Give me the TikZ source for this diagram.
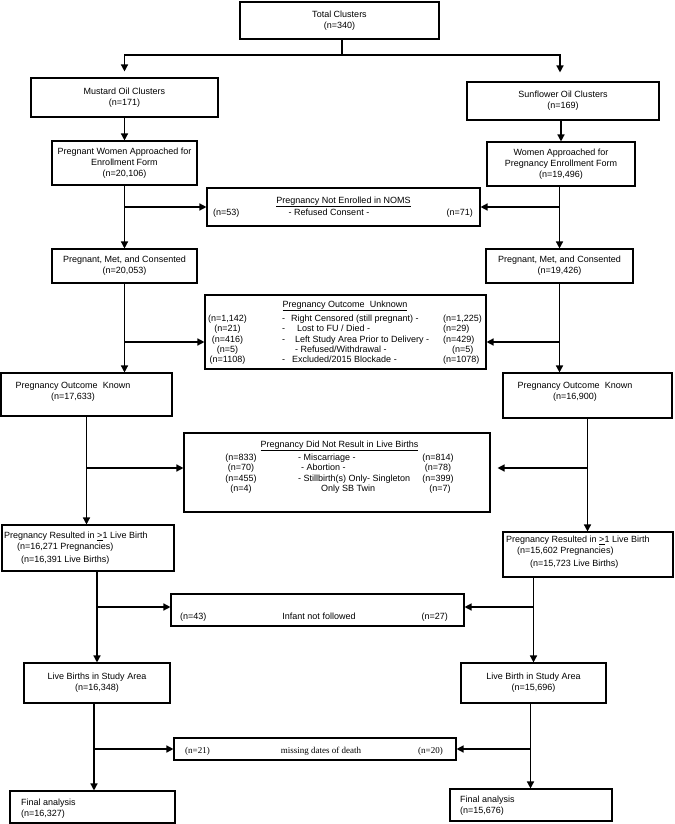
\documentclass[tikz,border=0pt]{standalone}
\usepackage{fontspec}
\setmainfont{Liberation Sans}
\newfontfamily\serifface{Liberation Serif}
\usetikzlibrary{arrows.meta,calc}
\newcommand\fsz{\fontsize{9bp}{10.7bp}\selectfont}
\tikzset{
  box/.style={draw, line width=1.1bp, inner sep=0pt, align=center, font=\fsz},
  lbl/.style={inner sep=0pt, font=\fsz},
  arr/.style={line width=1.4bp, -{Triangle[length=7bp,width=7bp]}},
  ln/.style={line width=1.4bp}
}
\begin{document}
\begin{tikzpicture}[x=1bp,y=-1bp]
\fill[white] (0,0) rectangle (675,824);
\useasboundingbox (0,0) rectangle (675,824);
% boxes
\node[box, minimum width=199bp, minimum height=37bp] (total) at (339.5,20.5) {Total Clusters\\(n=340)};
\node[box, minimum width=187bp, minimum height=39bp] (mustard) at (124.5,97.5) {Mustard Oil Clusters\\(n=171)};
\node[box, minimum width=192bp, minimum height=38bp] (sunflower) at (563,101) {Sunflower Oil Clusters\\(n=169)};
\node[box, minimum width=145bp, minimum height=44bp] (pwa) at (124.5,163) {Pregnant Women Approached for\\Enrollment Form\\(n=20,106)};
\node[box, minimum width=148bp, minimum height=44bp] (wa) at (561,164) {Women Approached for\\Pregnancy Enrollment Form\\(n=19,496)};
\node[box, minimum width=273bp, minimum height=38bp] (notenr) at (343.5,207) {};
\node[box, minimum width=145bp, minimum height=34bp] (pmcL) at (124.5,266) {Pregnant, Met, and Consented\\(n=20,053)};
\node[box, minimum width=147bp, minimum height=34bp] (pmcR) at (559.5,266) {Pregnant, Met, and Consented\\(n=19,426)};
\node[box, minimum width=281bp, minimum height=74bp] (unknown) at (345.5,332) {};
\node[box, minimum width=171bp, minimum height=43bp] (pokL) at (86.5,394.5) {};
\node[box, minimum width=169bp, minimum height=45bp] (pokR) at (587.5,395.5) {};
\node[box, minimum width=306bp, minimum height=79bp] (notlive) at (337,472.5) {};
\node[box, minimum width=172bp, minimum height=46bp] (prL) at (88,548) {};
\node[box, minimum width=170bp, minimum height=45bp] (prR) at (588,554.5) {};
\node[box, minimum width=293bp, minimum height=32bp] (infant) at (317.5,610) {};
\node[box, minimum width=146bp, minimum height=40bp] (lbL) at (97,683) {Live Births in Study Area\\(n=16,348)};
\node[box, minimum width=145bp, minimum height=40bp] (lbR) at (533.5,683) {Live Birth in Study Area\\(n=15,696)};
\node[box, minimum width=282bp, minimum height=22bp] (missing) at (315,749) {};
\node[box, minimum width=165bp, minimum height=32bp] (finL) at (92.5,807) {};
\node[box, minimum width=162bp, minimum height=32bp] (finR) at (531,805) {};
% labels: not enrolled
\node[lbl] (neT) at (343.5,202) {\underline{Pregnancy Not Enrolled in NOMS}};
\node[lbl, anchor=mid west] (neL) at (213,213) {(n=53)};
\node[lbl] (neM) at (329,212) {- Refused Consent -};
\node[lbl, anchor=mid east] (neR) at (473,213) {(n=71)};
% labels: outcome unknown
\node[lbl] (ouT) at (345,306) {\underline{Pregnancy Outcome\ \ Unknown}};
\node[lbl, anchor=mid] (ouL1) at (227.5,319) {(n=1,142)};
\node[lbl, anchor=mid] (ouL2) at (227.5,329.3) {(n=21)};
\node[lbl, anchor=mid] (ouL3) at (227.5,339.6) {(n=416)};
\node[lbl, anchor=mid] (ouL4) at (227.5,349.9) {(n=5)};
\node[lbl, anchor=mid] (ouL5) at (227.5,360.2) {(n=1108)};
\node[lbl, anchor=mid west] (ouM1) at (282,319) {-\hspace{6bp}Right Censored (still pregnant) -};
\node[lbl, anchor=mid west] (ouM2) at (282,329.3) {-\hspace{12bp}Lost to FU / Died -};
\node[lbl, anchor=mid west] (ouM3) at (282,339.6) {-\hspace{10bp}Left Study Area Prior to Delivery -};
\node[lbl, anchor=mid west] (ouM4) at (295,349.9) {- Refused/Withdrawal -};
\node[lbl, anchor=mid west] (ouM5) at (282,360.2) {-\hspace{7bp}Excluded/2015 Blockade -};
\node[lbl, anchor=mid west] (ouR1) at (443,319) {(n=1,225)};
\node[lbl, anchor=mid west] (ouR2) at (443,329.3) {(n=29)};
\node[lbl, anchor=mid west] (ouR3) at (443,339.6) {(n=429)};
\node[lbl, anchor=mid west] (ouR4) at (452,349.9) {(n=5)};
\node[lbl, anchor=mid west] (ouR5) at (443,360.2) {(n=1078)};
% labels: outcome known
\node[lbl, align=center] (pokLt) at (73,391.5) {Pregnancy Outcome\ \ Known\\(n=17,633)};
\node[lbl, align=center] (pokRt) at (575,391.5) {Pregnancy Outcome\ \ Known\\(n=16,900)};
% labels: did not result
\node[lbl] (nlT) at (339.5,446) {\underline{Pregnancy Did Not Result in Live Births}};
\node[lbl, anchor=mid] (nlL1) at (241,458) {(n=833)};
\node[lbl, anchor=mid] (nlL2) at (241,468.2) {(n=70)};
\node[lbl, anchor=mid] (nlL3) at (241,478.4) {(n=455)};
\node[lbl, anchor=mid] (nlL4) at (241,488.6) {(n=4)};
\node[lbl, anchor=mid west] (nlM1) at (298,458) {- Miscarriage -};
\node[lbl, anchor=mid west] (nlM2) at (301,468.2) {- Abortion -};
\node[lbl, anchor=mid west] (nlM3) at (298,478.4) {- Stillbirth(s) Only- Singleton};
\node[lbl, anchor=mid west] (nlM4) at (321,488.6) {Only SB Twin};
\node[lbl, anchor=mid] (nlR1) at (438,458) {(n=814)};
\node[lbl, anchor=mid] (nlR2) at (438,468.2) {(n=78)};
\node[lbl, anchor=mid] (nlR3) at (438,478.4) {(n=399)};
\node[lbl, anchor=mid] (nlR4) at (440,488.6) {(n=7)};
% labels: pregnancy resulted
\node[lbl, anchor=mid west] (prL1) at (4,536) {Pregnancy Resulted in \underline{>}1 Live Birth};
\node[lbl, anchor=mid west] (prL2) at (17,547) {(n=16,271 Pregnancies)};
\node[lbl, anchor=mid west] (prL3) at (21,560) {(n=16,391 Live Births)};
\node[lbl, anchor=mid west] (prR1) at (506,540) {Pregnancy Resulted in \underline{>}1 Live Birth};
\node[lbl, anchor=mid west] (prR2) at (517,551) {(n=15,602 Pregnancies)};
\node[lbl, anchor=mid west] (prR3) at (530,564) {(n=15,723 Live Births)};
% labels: infant
\node[lbl, anchor=mid west] (ifL) at (180,617) {(n=43)};
\node[lbl, anchor=mid] (ifM) at (319,617) {Infant not followed};
\node[lbl, anchor=mid east] (ifR) at (448,617) {(n=27)};
% labels: missing
\node[lbl, anchor=mid west, font=\serifface\fontsize{9bp}{11bp}\selectfont] (msL) at (185,750.5) {(n=21)};
\node[lbl, anchor=mid, font=\serifface\fontsize{9bp}{11bp}\selectfont] (msM) at (321,750.5) {missing dates of death};
\node[lbl, anchor=mid east, font=\serifface\fontsize{9bp}{11bp}\selectfont] (msR) at (443,750.5) {(n=20)};
% labels: final
\node[lbl, align=left, anchor=west] (finLt) at (21,808.5) {Final analysis\\(n=16,327)};
\node[lbl, align=left, anchor=west] (finRt) at (460,806) {Final analysis\\(n=15,676)};
% connectors
\coordinate (split) at (342,55);
\draw[ln] (total.south -| split) -- (split);
\draw[arr, shorten >=6bp] (split) -| (mustard.north);
\draw[arr, shorten >=9bp] (split) -| ([xshift=-3bp]sunflower.north);
\draw[arr] (mustard.south) -- (pwa.north);
\draw[arr] (sunflower.south -| wa.north) -- (wa.north);
\draw[arr] (pwa.south) -- (pmcL.north);
\draw[arr] (pwa.south |- notenr.west) -- (notenr.west);
\draw[arr] (wa.south -| pmcR.north) -- (pmcR.north);
\draw[arr] (pmcR.north |- notenr.east) -- (notenr.east);
\coordinate (uL) at ($(unknown.west)+(0,10)$);
\coordinate (uR) at ($(unknown.east)+(0,10)$);
\draw[arr] (pmcL.south) -- (pmcL.south |- pokL.north);
\draw[arr] (pmcL.south |- uL) -- (uL);
\draw[arr] (pmcR.south) -- (pmcR.south |- pokR.north);
\draw[arr] (pmcR.south |- uR) -- (uR);
\coordinate (nL) at ($(notlive.west)+(0,-4.5)$);
\coordinate (nR) at ($(notlive.east)+(0,-4.5)$);
\draw[arr] (pokL.south) -- (pokL.south |- prL.north);
\draw[arr] (pokL.south |- nL) -- (nL);
\draw[arr] (pokR.south) -- (pokR.south |- prR.north);
\draw[arr, shorten >=7bp] (pokR.south |- nR) -- (nR);
\coordinate (iL) at ($(infant.west)+(0,-3)$);
\coordinate (iR) at ($(infant.east)+(0,-3)$);
\draw[arr] (prL.south -| lbL.north) -- (lbL.north);
\draw[arr] (lbL.north |- iL) -- (iL);
\draw[arr] (prR.south -| lbR.north) -- (lbR.north);
\draw[arr] (lbR.north |- iR) -- (iR);
\coordinate (fL) at ($(lbL.south)+(-3,0)$);
\coordinate (fR) at ($(lbR.south)+(-3,0)$);
\draw[arr] (fL) -- (fL |- finL.north);
\draw[arr] (fL |- missing.west) -- (missing.west);
\draw[arr] (fR) -- (fR |- finR.north);
\draw[arr] (fR |- missing.east) -- (missing.east);
\end{tikzpicture}
\end{document}
